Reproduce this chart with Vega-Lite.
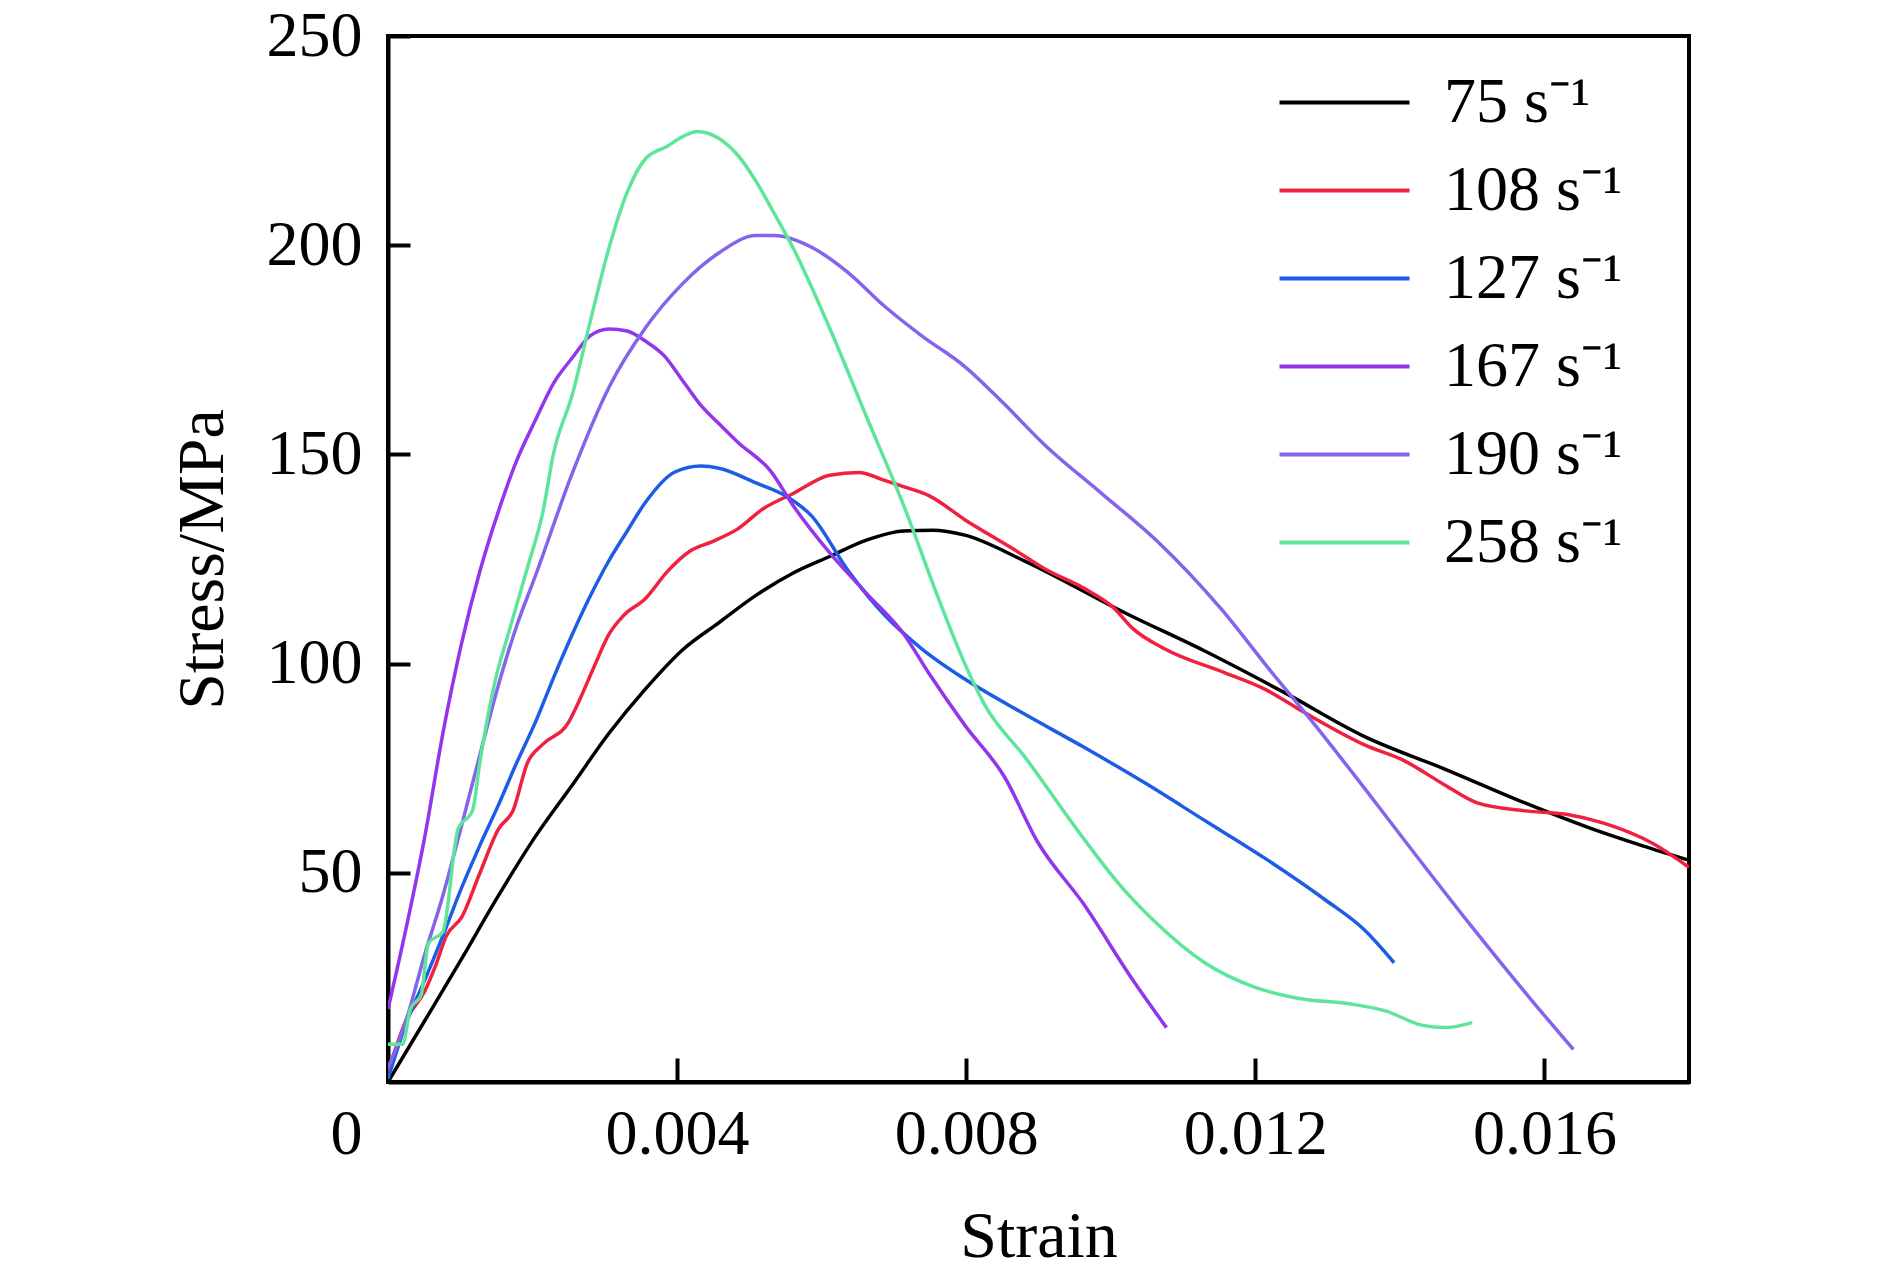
{
  "$schema": "https://vega.github.io/schema/vega-lite/v6.json",
  "width": 1301,
  "height": 1046,
  "autosize": "none",
  "padding": {"left": 388, "top": 36, "right": 201, "bottom": 196},
  "background": "white",
  "config": {
    "font": "Liberation Serif",
    "view": {"stroke": "black", "strokeWidth": 4}
  },
  "data": {
    "values": [
      {"r": "75 s⁻¹", "x": 0, "y": 0},
      {"r": "75 s⁻¹", "x": 0.00051, "y": 14.7},
      {"r": "75 s⁻¹", "x": 0.00102, "y": 29.5},
      {"r": "75 s⁻¹", "x": 0.00153, "y": 44.6},
      {"r": "75 s⁻¹", "x": 0.00204, "y": 58.7},
      {"r": "75 s⁻¹", "x": 0.00255, "y": 71},
      {"r": "75 s⁻¹", "x": 0.00306, "y": 83.4},
      {"r": "75 s⁻¹", "x": 0.00356, "y": 93.9},
      {"r": "75 s⁻¹", "x": 0.00407, "y": 103.2},
      {"r": "75 s⁻¹", "x": 0.00458, "y": 109.8},
      {"r": "75 s⁻¹", "x": 0.00509, "y": 116.3},
      {"r": "75 s⁻¹", "x": 0.0056, "y": 121.6},
      {"r": "75 s⁻¹", "x": 0.00611, "y": 125.6},
      {"r": "75 s⁻¹", "x": 0.00662, "y": 129.5},
      {"r": "75 s⁻¹", "x": 0.00713, "y": 131.7},
      {"r": "75 s⁻¹", "x": 0.00754, "y": 131.9},
      {"r": "75 s⁻¹", "x": 0.00798, "y": 130.7},
      {"r": "75 s⁻¹", "x": 0.00881, "y": 124.5},
      {"r": "75 s⁻¹", "x": 0.0102, "y": 112.1},
      {"r": "75 s⁻¹", "x": 0.0113, "y": 103},
      {"r": "75 s⁻¹", "x": 0.01241, "y": 93},
      {"r": "75 s⁻¹", "x": 0.01352, "y": 82.5},
      {"r": "75 s⁻¹", "x": 0.01462, "y": 74.8},
      {"r": "75 s⁻¹", "x": 0.01573, "y": 66.7},
      {"r": "75 s⁻¹", "x": 0.01666, "y": 60.5},
      {"r": "75 s⁻¹", "x": 0.01735, "y": 56.5},
      {"r": "75 s⁻¹", "x": 0.018, "y": 53},

      {"r": "108 s⁻¹", "x": 0, "y": 2.4},
      {"r": "108 s⁻¹", "x": 0.00025, "y": 14.7},
      {"r": "108 s⁻¹", "x": 0.00051, "y": 21.8},
      {"r": "108 s⁻¹", "x": 0.00066, "y": 27.9},
      {"r": "108 s⁻¹", "x": 0.00081, "y": 35},
      {"r": "108 s⁻¹", "x": 0.00102, "y": 39.4},
      {"r": "108 s⁻¹", "x": 0.00127, "y": 49.9},
      {"r": "108 s⁻¹", "x": 0.00153, "y": 60.5},
      {"r": "108 s⁻¹", "x": 0.00173, "y": 64.9},
      {"r": "108 s⁻¹", "x": 0.00193, "y": 76.3},
      {"r": "108 s⁻¹", "x": 0.00214, "y": 80.7},
      {"r": "108 s⁻¹", "x": 0.0025, "y": 86},
      {"r": "108 s⁻¹", "x": 0.00265, "y": 91.3},
      {"r": "108 s⁻¹", "x": 0.00285, "y": 99.2},
      {"r": "108 s⁻¹", "x": 0.00306, "y": 107.1},
      {"r": "108 s⁻¹", "x": 0.00326, "y": 111.5},
      {"r": "108 s⁻¹", "x": 0.00356, "y": 115.5},
      {"r": "108 s⁻¹", "x": 0.00387, "y": 122.1},
      {"r": "108 s⁻¹", "x": 0.00418, "y": 126.9},
      {"r": "108 s⁻¹", "x": 0.00448, "y": 129.1},
      {"r": "108 s⁻¹", "x": 0.00484, "y": 132.2},
      {"r": "108 s⁻¹", "x": 0.00519, "y": 137},
      {"r": "108 s⁻¹", "x": 0.0056, "y": 140.6},
      {"r": "108 s⁻¹", "x": 0.00611, "y": 145},
      {"r": "108 s⁻¹", "x": 0.00652, "y": 145.7},
      {"r": "108 s⁻¹", "x": 0.00682, "y": 144.1},
      {"r": "108 s⁻¹", "x": 0.00713, "y": 142.3},
      {"r": "108 s⁻¹", "x": 0.00749, "y": 140.1},
      {"r": "108 s⁻¹", "x": 0.00798, "y": 134.4},
      {"r": "108 s⁻¹", "x": 0.00865, "y": 127.4},
      {"r": "108 s⁻¹", "x": 0.00909, "y": 122.6},
      {"r": "108 s⁻¹", "x": 0.00965, "y": 117.8},
      {"r": "108 s⁻¹", "x": 0.01003, "y": 113.5},
      {"r": "108 s⁻¹", "x": 0.01031, "y": 108.3},
      {"r": "108 s⁻¹", "x": 0.01075, "y": 103.5},
      {"r": "108 s⁻¹", "x": 0.01158, "y": 97.8},
      {"r": "108 s⁻¹", "x": 0.01213, "y": 93.9},
      {"r": "108 s⁻¹", "x": 0.01269, "y": 88.2},
      {"r": "108 s⁻¹", "x": 0.01352, "y": 80.5},
      {"r": "108 s⁻¹", "x": 0.01407, "y": 76.7},
      {"r": "108 s⁻¹", "x": 0.01462, "y": 71},
      {"r": "108 s⁻¹", "x": 0.01507, "y": 66.7},
      {"r": "108 s⁻¹", "x": 0.01573, "y": 64.8},
      {"r": "108 s⁻¹", "x": 0.0163, "y": 64},
      {"r": "108 s⁻¹", "x": 0.01683, "y": 61.8},
      {"r": "108 s⁻¹", "x": 0.0175, "y": 57},
      {"r": "108 s⁻¹", "x": 0.018, "y": 51.3},

      {"r": "127 s⁻¹", "x": 0, "y": 0.7},
      {"r": "127 s⁻¹", "x": 0.00025, "y": 14},
      {"r": "127 s⁻¹", "x": 0.00051, "y": 24.4},
      {"r": "127 s⁻¹", "x": 0.00076, "y": 35},
      {"r": "127 s⁻¹", "x": 0.00102, "y": 46.5},
      {"r": "127 s⁻¹", "x": 0.00127, "y": 56.5},
      {"r": "127 s⁻¹", "x": 0.00153, "y": 66.3},
      {"r": "127 s⁻¹", "x": 0.00178, "y": 76.3},
      {"r": "127 s⁻¹", "x": 0.00204, "y": 86},
      {"r": "127 s⁻¹", "x": 0.00229, "y": 96.6},
      {"r": "127 s⁻¹", "x": 0.00255, "y": 107},
      {"r": "127 s⁻¹", "x": 0.0028, "y": 116.2},
      {"r": "127 s⁻¹", "x": 0.00306, "y": 124.7},
      {"r": "127 s⁻¹", "x": 0.00331, "y": 131.7},
      {"r": "127 s⁻¹", "x": 0.00356, "y": 138.5},
      {"r": "127 s⁻¹", "x": 0.00397, "y": 145.8},
      {"r": "127 s⁻¹", "x": 0.00433, "y": 147.2},
      {"r": "127 s⁻¹", "x": 0.00458, "y": 146.7},
      {"r": "127 s⁻¹", "x": 0.00509, "y": 143.2},
      {"r": "127 s⁻¹", "x": 0.0055, "y": 140.1},
      {"r": "127 s⁻¹", "x": 0.00586, "y": 135.3},
      {"r": "127 s⁻¹", "x": 0.00637, "y": 122.1},
      {"r": "127 s⁻¹", "x": 0.00687, "y": 111.6},
      {"r": "127 s⁻¹", "x": 0.00738, "y": 103.6},
      {"r": "127 s⁻¹", "x": 0.00798, "y": 96.3},
      {"r": "127 s⁻¹", "x": 0.0088, "y": 88},
      {"r": "127 s⁻¹", "x": 0.00963, "y": 80},
      {"r": "127 s⁻¹", "x": 0.01047, "y": 71.5},
      {"r": "127 s⁻¹", "x": 0.0113, "y": 62.5},
      {"r": "127 s⁻¹", "x": 0.01213, "y": 53.5},
      {"r": "127 s⁻¹", "x": 0.01297, "y": 43.5},
      {"r": "127 s⁻¹", "x": 0.0135, "y": 36.5},
      {"r": "127 s⁻¹", "x": 0.01392, "y": 28.5},

      {"r": "167 s⁻¹", "x": 0, "y": 17.4},
      {"r": "167 s⁻¹", "x": 0.00025, "y": 36.7},
      {"r": "167 s⁻¹", "x": 0.00051, "y": 58.7},
      {"r": "167 s⁻¹", "x": 0.00076, "y": 83.4},
      {"r": "167 s⁻¹", "x": 0.00102, "y": 105},
      {"r": "167 s⁻¹", "x": 0.00127, "y": 122},
      {"r": "167 s⁻¹", "x": 0.00153, "y": 136.5},
      {"r": "167 s⁻¹", "x": 0.00178, "y": 148.5},
      {"r": "167 s⁻¹", "x": 0.00204, "y": 158.2},
      {"r": "167 s⁻¹", "x": 0.00229, "y": 167},
      {"r": "167 s⁻¹", "x": 0.00255, "y": 173.1},
      {"r": "167 s⁻¹", "x": 0.0028, "y": 178.4},
      {"r": "167 s⁻¹", "x": 0.00306, "y": 180},
      {"r": "167 s⁻¹", "x": 0.00331, "y": 179.5},
      {"r": "167 s⁻¹", "x": 0.00356, "y": 177.1},
      {"r": "167 s⁻¹", "x": 0.00382, "y": 173.6},
      {"r": "167 s⁻¹", "x": 0.00407, "y": 167.8},
      {"r": "167 s⁻¹", "x": 0.00433, "y": 161.7},
      {"r": "167 s⁻¹", "x": 0.00458, "y": 157.3},
      {"r": "167 s⁻¹", "x": 0.00484, "y": 152.9},
      {"r": "167 s⁻¹", "x": 0.0053, "y": 145.9},
      {"r": "167 s⁻¹", "x": 0.0056, "y": 137.9},
      {"r": "167 s⁻¹", "x": 0.00611, "y": 126.5},
      {"r": "167 s⁻¹", "x": 0.00662, "y": 116.8},
      {"r": "167 s⁻¹", "x": 0.00713, "y": 107.2},
      {"r": "167 s⁻¹", "x": 0.00749, "y": 97.5},
      {"r": "167 s⁻¹", "x": 0.00798, "y": 85.3},
      {"r": "167 s⁻¹", "x": 0.00853, "y": 72.9},
      {"r": "167 s⁻¹", "x": 0.00898, "y": 57.6},
      {"r": "167 s⁻¹", "x": 0.00963, "y": 42.4},
      {"r": "167 s⁻¹", "x": 0.0103, "y": 24.5},
      {"r": "167 s⁻¹", "x": 0.01077, "y": 13},

      {"r": "190 s⁻¹", "x": 0, "y": 3.3},
      {"r": "190 s⁻¹", "x": 0.00025, "y": 14.7},
      {"r": "190 s⁻¹", "x": 0.00051, "y": 30.6},
      {"r": "190 s⁻¹", "x": 0.00076, "y": 44.6},
      {"r": "190 s⁻¹", "x": 0.00102, "y": 61.4},
      {"r": "190 s⁻¹", "x": 0.00127, "y": 78.1},
      {"r": "190 s⁻¹", "x": 0.00153, "y": 95},
      {"r": "190 s⁻¹", "x": 0.00178, "y": 109},
      {"r": "190 s⁻¹", "x": 0.00204, "y": 121},
      {"r": "190 s⁻¹", "x": 0.00255, "y": 145.5},
      {"r": "190 s⁻¹", "x": 0.00306, "y": 166.1},
      {"r": "190 s⁻¹", "x": 0.00356, "y": 180.2},
      {"r": "190 s⁻¹", "x": 0.00407, "y": 190.7},
      {"r": "190 s⁻¹", "x": 0.00458, "y": 198.2},
      {"r": "190 s⁻¹", "x": 0.00509, "y": 202.3},
      {"r": "190 s⁻¹", "x": 0.00535, "y": 202.3},
      {"r": "190 s⁻¹", "x": 0.00586, "y": 199.5},
      {"r": "190 s⁻¹", "x": 0.00637, "y": 193.4},
      {"r": "190 s⁻¹", "x": 0.00687, "y": 185.4},
      {"r": "190 s⁻¹", "x": 0.00738, "y": 178.4},
      {"r": "190 s⁻¹", "x": 0.00798, "y": 171},
      {"r": "190 s⁻¹", "x": 0.0085, "y": 162.5},
      {"r": "190 s⁻¹", "x": 0.00909, "y": 152.2},
      {"r": "190 s⁻¹", "x": 0.00985, "y": 141},
      {"r": "190 s⁻¹", "x": 0.01064, "y": 129.3},
      {"r": "190 s⁻¹", "x": 0.01153, "y": 113},
      {"r": "190 s⁻¹", "x": 0.01219, "y": 98.7},
      {"r": "190 s⁻¹", "x": 0.01269, "y": 88.2},
      {"r": "190 s⁻¹", "x": 0.01352, "y": 70},
      {"r": "190 s⁻¹", "x": 0.01407, "y": 57.6},
      {"r": "190 s⁻¹", "x": 0.015, "y": 37},
      {"r": "190 s⁻¹", "x": 0.0158, "y": 20},
      {"r": "190 s⁻¹", "x": 0.0164, "y": 7.8},

      {"r": "258 s⁻¹", "x": 0, "y": 9},
      {"r": "258 s⁻¹", "x": 0.0002, "y": 9},
      {"r": "258 s⁻¹", "x": 0.00031, "y": 17.4},
      {"r": "258 s⁻¹", "x": 0.00046, "y": 20.9},
      {"r": "258 s⁻¹", "x": 0.00056, "y": 33.2},
      {"r": "258 s⁻¹", "x": 0.00076, "y": 35.9},
      {"r": "258 s⁻¹", "x": 0.00097, "y": 60.5},
      {"r": "258 s⁻¹", "x": 0.00117, "y": 64.9},
      {"r": "258 s⁻¹", "x": 0.00127, "y": 76.3},
      {"r": "258 s⁻¹", "x": 0.00148, "y": 95.7},
      {"r": "258 s⁻¹", "x": 0.00168, "y": 108},
      {"r": "258 s⁻¹", "x": 0.00193, "y": 123},
      {"r": "258 s⁻¹", "x": 0.00214, "y": 136},
      {"r": "258 s⁻¹", "x": 0.00229, "y": 150.2},
      {"r": "258 s⁻¹", "x": 0.00255, "y": 164.3},
      {"r": "258 s⁻¹", "x": 0.0028, "y": 181.9},
      {"r": "258 s⁻¹", "x": 0.00306, "y": 199.5},
      {"r": "258 s⁻¹", "x": 0.00331, "y": 212.7},
      {"r": "258 s⁻¹", "x": 0.00356, "y": 220.6},
      {"r": "258 s⁻¹", "x": 0.00387, "y": 223.7},
      {"r": "258 s⁻¹", "x": 0.00407, "y": 225.9},
      {"r": "258 s⁻¹", "x": 0.00428, "y": 227.2},
      {"r": "258 s⁻¹", "x": 0.00458, "y": 225.5},
      {"r": "258 s⁻¹", "x": 0.00484, "y": 221.5},
      {"r": "258 s⁻¹", "x": 0.00509, "y": 215.3},
      {"r": "258 s⁻¹", "x": 0.00535, "y": 207.4},
      {"r": "258 s⁻¹", "x": 0.0056, "y": 199.5},
      {"r": "258 s⁻¹", "x": 0.00611, "y": 180.2},
      {"r": "258 s⁻¹", "x": 0.00662, "y": 159},
      {"r": "258 s⁻¹", "x": 0.00713, "y": 138},
      {"r": "258 s⁻¹", "x": 0.00764, "y": 114.5},
      {"r": "258 s⁻¹", "x": 0.00798, "y": 100},
      {"r": "258 s⁻¹", "x": 0.00826, "y": 90},
      {"r": "258 s⁻¹", "x": 0.00881, "y": 77.7},
      {"r": "258 s⁻¹", "x": 0.00965, "y": 57.6},
      {"r": "258 s⁻¹", "x": 0.01013, "y": 47},
      {"r": "258 s⁻¹", "x": 0.01063, "y": 38},
      {"r": "258 s⁻¹", "x": 0.0113, "y": 28.5},
      {"r": "258 s⁻¹", "x": 0.01197, "y": 22.8},
      {"r": "258 s⁻¹", "x": 0.01263, "y": 19.9},
      {"r": "258 s⁻¹", "x": 0.0133, "y": 18.7},
      {"r": "258 s⁻¹", "x": 0.0138, "y": 17},
      {"r": "258 s⁻¹", "x": 0.0143, "y": 13.6},
      {"r": "258 s⁻¹", "x": 0.01463, "y": 13},
      {"r": "258 s⁻¹", "x": 0.015, "y": 14.2}
    ]
  },
  "mark": {"type": "line", "strokeWidth": 3.5, "interpolate": "monotone", "clip": true},
  "encoding": {
    "x": {
      "field": "x",
      "type": "quantitative",
      "title": "Strain",
      "scale": {"domain": [0, 0.018], "nice": false, "zero": true},
      "axis": {
        "values": [0, 0.004, 0.008, 0.012, 0.016],
        "labelExpr": "datum.value == 0 ? '0' : format(datum.value, '.3f')",
        "grid": false,
        "domainColor": "black",
        "domainWidth": 4,
        "tickColor": "black",
        "tickWidth": 4,
        "tickSize": -24,
        "labelFontSize": 64,
        "labelColor": "black",
        "labelPadding": 44,
        "labelOffset": {"condition": {"test": "datum.value == 0", "value": -42}, "value": 0},
        "labelFlush": false,
        "titleFontSize": 66,
        "titleFontWeight": "normal",
        "titleColor": "black",
        "titlePadding": 38
      }
    },
    "y": {
      "field": "y",
      "type": "quantitative",
      "title": "Stress/MPa",
      "scale": {"domain": [0, 250], "nice": false},
      "axis": {
        "values": [50, 100, 150, 200, 250],
        "grid": false,
        "domainColor": "black",
        "domainWidth": 4,
        "tickColor": "black",
        "tickWidth": 4,
        "tickSize": -22,
        "labelFontSize": 64,
        "labelColor": "black",
        "labelPadding": 48,
        "labelFlush": false,
        "titleFontSize": 66,
        "titleFontWeight": "normal",
        "titleColor": "black",
        "titlePadding": 30
      }
    },
    "color": {
      "field": "r",
      "type": "nominal",
      "scale": {
        "domain": ["75 s⁻¹", "108 s⁻¹", "127 s⁻¹", "167 s⁻¹", "190 s⁻¹", "258 s⁻¹"],
        "range": ["#000000", "#f0203f", "#1d5de6", "#9335ec", "#8663ed", "#5de59a"]
      },
      "legend": {
        "title": null,
        "orient": "none",
        "legendX": 922,
        "legendY": 32,
        "padding": 0,
        "symbolType": "M-2,0H2",
        "symbolSize": 4225,
        "symbolStrokeWidth": 4,
        "labelFontSize": 64,
        "labelColor": "black",
        "labelOffset": 65,
        "labelLimit": 400,
        "rowPadding": 21
      }
    }
  }
}
